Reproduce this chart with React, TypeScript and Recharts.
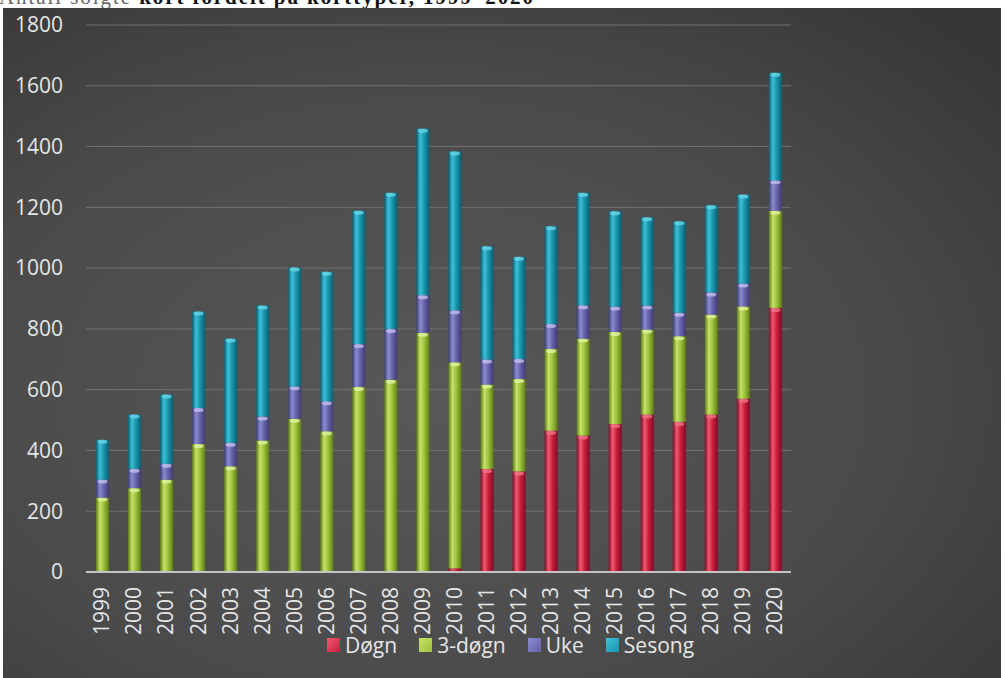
import React from 'react';
import { BarChart, Bar, XAxis, YAxis, CartesianGrid, Legend } from 'recharts';

const years = ['1999','2000','2001','2002','2003','2004','2005','2006','2007','2008','2009','2010','2011','2012','2013','2014','2015','2016','2017','2018','2019','2020'];
const dogn = [0,0,0,0,0,0,0,0,0,0,0,12,339,331,465,449,487,518,494,518,570,869];
const treDogn = [245,276,304,421,348,433,504,463,609,633,787,678,278,304,269,319,303,280,282,329,304,320];
const uke = [59,64,52,119,77,79,107,99,141,167,124,171,82,66,82,110,84,79,77,73,75,100];
const sesong = [131,178,228,317,343,365,391,426,439,448,548,523,373,336,322,370,313,290,301,287,293,354];
const yTicks = [0,200,400,600,800,1000,1200,1400,1600,1800];

const data = years.map((y, i) => ({
  year: y,
  'Døgn': dogn[i],
  '3-døgn': treDogn[i],
  'Uke': uke[i],
  'Sesong': sesong[i],
}));

const series = [
  { key: 'Døgn', id: 'gRed', dark: '#7e0c22', base: '#cc1d3c', light: '#ee5a72', cap: '#f07a8c' },
  { key: '3-døgn', id: 'gGreen', dark: '#5f7d18', base: '#9cc23a', light: '#c6e268', cap: '#e4f4a8' },
  { key: 'Uke', id: 'gPurple', dark: '#3e3d72', base: '#6663aa', light: '#8c8ad0', cap: '#c8c6f0' },
  { key: 'Sesong', id: 'gTeal', dark: '#0c5f70', base: '#1896ad', light: '#3cc0d8', cap: '#6fd8ea' },
];

const FONT = '"Open Sans", "DejaVu Sans", sans-serif';

const makeShape = (s: any) => (props: any) => {
  const { x, y, width, height } = props;
  if (!height || height <= 0) return <g />;
  return (
    <g>
      <rect x={x} y={y} width={width} height={height} fill={`url(#${s.id})`} />
      {height > 4 && (
        <ellipse cx={x + width / 2} cy={y + 2} rx={width / 2 - 1.5} ry={2} fill={s.cap} opacity={0.75} />
      )}
    </g>
  );
};

const XTick = (props: any) => {
  const { x, y, payload } = props;
  return (
    <g transform={`translate(${x},${y})`}>
      <text transform="rotate(-90)" textAnchor="end" dy="0.35em" fill="#e6e6e6" fontSize={21} fontFamily={FONT}>
        {payload.value}
      </text>
    </g>
  );
};

const YTick = (props: any) => {
  const { x, y, payload } = props;
  return (
    <text x={x} y={y} dy="0.35em" textAnchor="end" fill="#e6e6e6" fontSize={21} fontFamily={FONT}>
      {payload.value}
    </text>
  );
};

const LegendContent = (props: any) => {
  const payload = props.payload || [];
  const ordered = series
    .map((s) => ({ s, p: payload.find((q: any) => q.value === s.key) }))
    .filter((e) => e.p);
  return (
    <div style={{ display: 'flex', alignItems: 'center', height: 28, fontFamily: FONT, fontSize: 21, color: '#e6e6e6', whiteSpace: 'nowrap' }}>
      {ordered.map(({ s, p }: any) => (
        <span key={p.value} style={{ display: 'flex', alignItems: 'center', marginRight: 22 }}>
          <svg width={13} height={14} style={{ display: 'block' }}>
            <rect x={0} y={0} width={13} height={14} fill={`url(#${s.id}L)`} />
          </svg>
          <span style={{ marginLeft: 5, lineHeight: '28px' }}>{p.value}</span>
        </span>
      ))}
      <svg width={0} height={0} style={{ position: 'absolute' }}>
        <defs>
          {series.map((s) => (
            <linearGradient key={s.id} id={`${s.id}L`} x1="0" y1="0" x2="1" y2="1">
              <stop offset="0" stopColor={s.light} />
              <stop offset="1" stopColor={s.base} />
            </linearGradient>
          ))}
        </defs>
      </svg>
    </div>
  );
};

export default function App() {
  return (
    <div style={{ position: 'absolute', left: 0, top: 0, width: 1005, height: 678, background: '#ffffff', overflow: 'hidden' }}>
      <svg width={1005} height={678} style={{ position: 'absolute', left: 0, top: 0 }}>
        <defs>
          <radialGradient id="bgGrad" cx="0.42" cy="0.58" r="0.78">
            <stop offset="0" stopColor="#585858" />
            <stop offset="0.6" stopColor="#4a4a4a" />
            <stop offset="1" stopColor="#363636" />
          </radialGradient>
        </defs>
        <text x={-1} y={4} fontFamily='"Liberation Serif", serif' fontWeight="bold" fontSize={21} fill="#111" textLength={534}>
          <tspan fill="#666" fontWeight="normal">Antall solgte </tspan>kort fordelt på korttyper, 1999–2020
        </text>
        <rect x={3} y={8} width={998} height={670} fill="url(#bgGrad)" />
      </svg>
      <div style={{ position: 'absolute', left: 0, top: 0 }}>
        <BarChart width={1005} height={678} data={data} margin={{ top: 25, right: 214, bottom: 19, left: 0 }} barSize={13}>
          <defs>
            {series.map((s) => (
              <linearGradient key={s.id} id={s.id} x1="0" y1="0" x2="1" y2="0">
                <stop offset="0" stopColor={s.dark} />
                <stop offset="0.3" stopColor={s.light} />
                <stop offset="0.6" stopColor={s.base} />
                <stop offset="1" stopColor={s.dark} />
              </linearGradient>
            ))}
          </defs>
          <CartesianGrid horizontal vertical={false} stroke="#717171" strokeWidth={1} />
          <XAxis
            dataKey="year"
            interval={0}
            height={59}
            tickSize={0}
            tickMargin={15}
            tickLine={false}
            axisLine={{ stroke: '#c4c4c4', strokeWidth: 2 }}
            tick={<XTick />}
          />
          <YAxis
            width={86}
            domain={[0, 1800]}
            ticks={yTicks}
            tickSize={0}
            tickMargin={23}
            tickLine={false}
            axisLine={false}
            tick={<YTick />}
          />
          <Legend
            verticalAlign="bottom"
            height={28}
            content={<LegendContent />}
            wrapperStyle={{ left: 327, width: 420 }}
          />
          {series.map((s) => (
            <Bar key={s.key} dataKey={s.key} stackId="a" fill={s.base} shape={makeShape(s)} isAnimationActive={false} />
          ))}
        </BarChart>
      </div>
    </div>
  );
}
